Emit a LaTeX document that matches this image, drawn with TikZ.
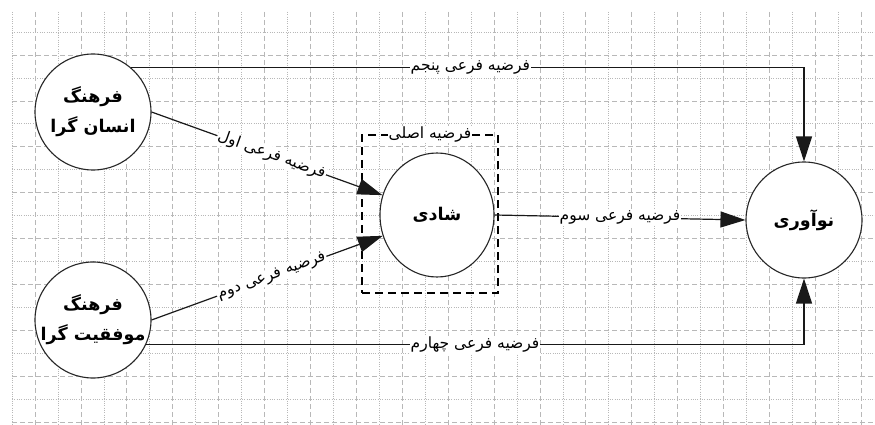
\documentclass[tikz,border=0pt]{standalone}
\usepackage{fontspec}
\newfontfamily\fa[Script=Arabic]{DejaVu Sans}
\TeXXeTstate=1
\usetikzlibrary{arrows.meta,shapes.geometric}
\begin{document}
\begin{tikzpicture}[x=1pt,y=-1pt,
  gridln/.style={draw=black!28, line width=0.6pt},
  circ/.style={circle, draw=black!85, line width=1.1pt, fill=white, minimum size=116pt, inner sep=0pt, align=center, font=\fa\bfseries\fontsize{17.5}{30}\selectfont},
  lab/.style={fill=white, inner sep=1pt, font=\fa\fontsize{15.5}{17}\selectfont},
  conn/.style={draw=black!90, line width=1.2pt},
  arr/.style={-{Triangle[length=25pt,width=16pt]}},
  hypbox/.style={draw=black, line width=1.1pt, dash pattern=on 8pt off 5pt, minimum width=136pt, minimum height=158pt, inner sep=0pt}
]
\useasboundingbox (0,0) rectangle (875,425);
\fill[white] (0,0) rectangle (875,425);
% grid
\foreach \k in {0,...,37}{
  \ifodd\k
    \draw[gridln, dash pattern=on 5pt off 3pt] ({12+22.95*\k},12) -- ({12+22.95*\k},425);
  \else
    \draw[gridln, dash pattern=on 1pt off 1.3pt] ({12+22.95*\k},12) -- ({12+22.95*\k},425);
  \fi
}
\foreach \j in {0,...,17}{
  \ifodd\j
    \draw[gridln, dash pattern=on 5pt off 3pt] (12,{32+22.95*\j}) -- (875,{32+22.95*\j});
  \else
    \draw[gridln, dash pattern=on 1pt off 1.3pt] (12,{32+22.95*\j}) -- (875,{32+22.95*\j});
  \fi
}
% hypothesis box
\node[hypbox] (box) at (430,214) {};
\node[lab] (boxlab) at (box.north) {\beginR فرضیه اصلی\endR};
% nodes
\node[circ] (c1) at (93,112) {\beginR فرهنگ\endR\\\beginR انسان گرا\endR};
\node[circ] (c2) at (93,320) {\beginR فرهنگ\endR\\\beginR موفقیت گرا\endR};
\node[circ, ellipse, minimum width=114pt, minimum height=124pt] (sh) at (437,215) {\beginR شادی\endR};
\node[circ] (nw) at (804,220) {\beginR نوآوری\endR};
% connectors
\draw[conn, arr] (c1.east) -- node[lab, sloped, pos=0.52] {\beginR فرضیه فرعی اول\endR} (sh.160);
\draw[conn, arr] (c2.east) -- node[lab, sloped, pos=0.52] {\beginR فرضیه فرعی دوم\endR} (sh.201);
\draw[conn, arr] (sh.east) -- node[lab, pos=0.5] {\beginR فرضیه فرعی سوم\endR} (nw.west);
\draw[conn, arr] (c1.49.3) -| node[lab, pos=0.252] {\beginR فرضیه فرعی پنجم\endR} (nw.north);
\draw[conn, arr] (c2.-25.6) -| node[lab, pos=0.25] {\beginR فرضیه فرعی چهارم\endR} (nw.south);
\end{tikzpicture}
\end{document}
